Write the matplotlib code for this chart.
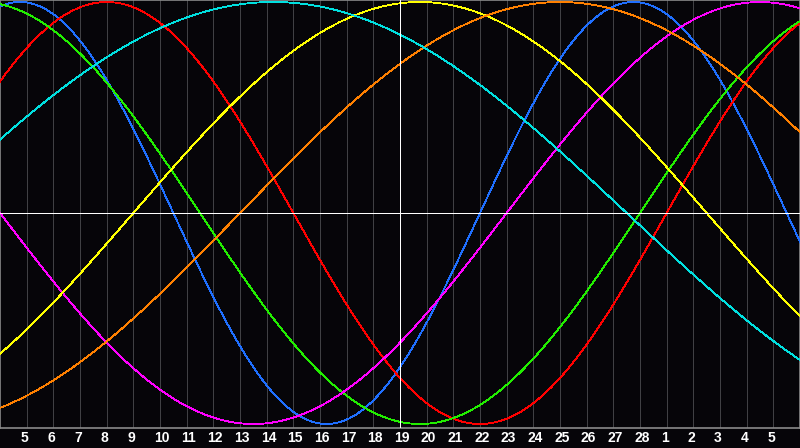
import numpy as np
import matplotlib
matplotlib.use("Agg")
import matplotlib.pyplot as plt

# ---- data ----
days_since_birth = 40071          # day count at the left edge of the chart
n_days = 30                       # days shown
today_index = 15                  # white "today" marker
periods = [23, 28, 33, 38, 43, 48, 53]
cycle_names = ["Physical", "Emotional", "Intellectual", "Intuitive",
               "Aesthetic", "Awareness", "Spiritual"]
colors = ["#1f6fff", "#ff0000", "#22ee00", "#ff00ff",
          "#ffff00", "#ff8000", "#00e0e0"]
day_labels = list(range(5, 29)) + list(range(1, 6))

W, H = 800, 448
fig = plt.figure(figsize=(W / 100, H / 100), dpi=100)
bg = "#060509"
fig.patch.set_facecolor(bg)
ax = fig.add_axes([0, 20 / H, 1, 428 / H])
ax.set_facecolor(bg)

center_px = 213.0
amp_px = 211.0
ax.set_xlim(0, n_days)
ax.set_ylim(-(428 - center_px) / amp_px, center_px / amp_px)

# grid
for k in range(1, n_days):
    if k == today_index:
        continue
    ax.axvline(k, color="#404044", lw=0.72, antialiased=False, zorder=1)

# curves
d = np.linspace(0, n_days, 2401)
for P, c, nm in zip(periods, colors, cycle_names):
    ax.plot(d, np.sin(2 * np.pi * (days_since_birth + d) / P), color=c,
            lw=0.6, antialiased=False, zorder=3, label=nm)

# centre lines
ax.axhline(0, color="white", lw=0.72, antialiased=False, zorder=4)
ax.axvline(today_index, color="white", lw=0.72, antialiased=False, zorder=4)

for s in ax.spines.values():
    s.set_color("#8a8a8a")
    s.set_linewidth(1.2)
ax.set_xticks([])
ax.set_yticks([])

# day labels
trans = matplotlib.transforms.blended_transform_factory(ax.transData, ax.transAxes)
for k, lab in enumerate(day_labels, start=1):
    ax.text(k - 6 / 26.667, -10 / 428, str(lab), transform=trans,
            ha="left", va="center", color="white", fontsize=10,
            fontweight="bold", family="Liberation Sans")

fig.savefig("out.png", dpi=100, facecolor=bg)
